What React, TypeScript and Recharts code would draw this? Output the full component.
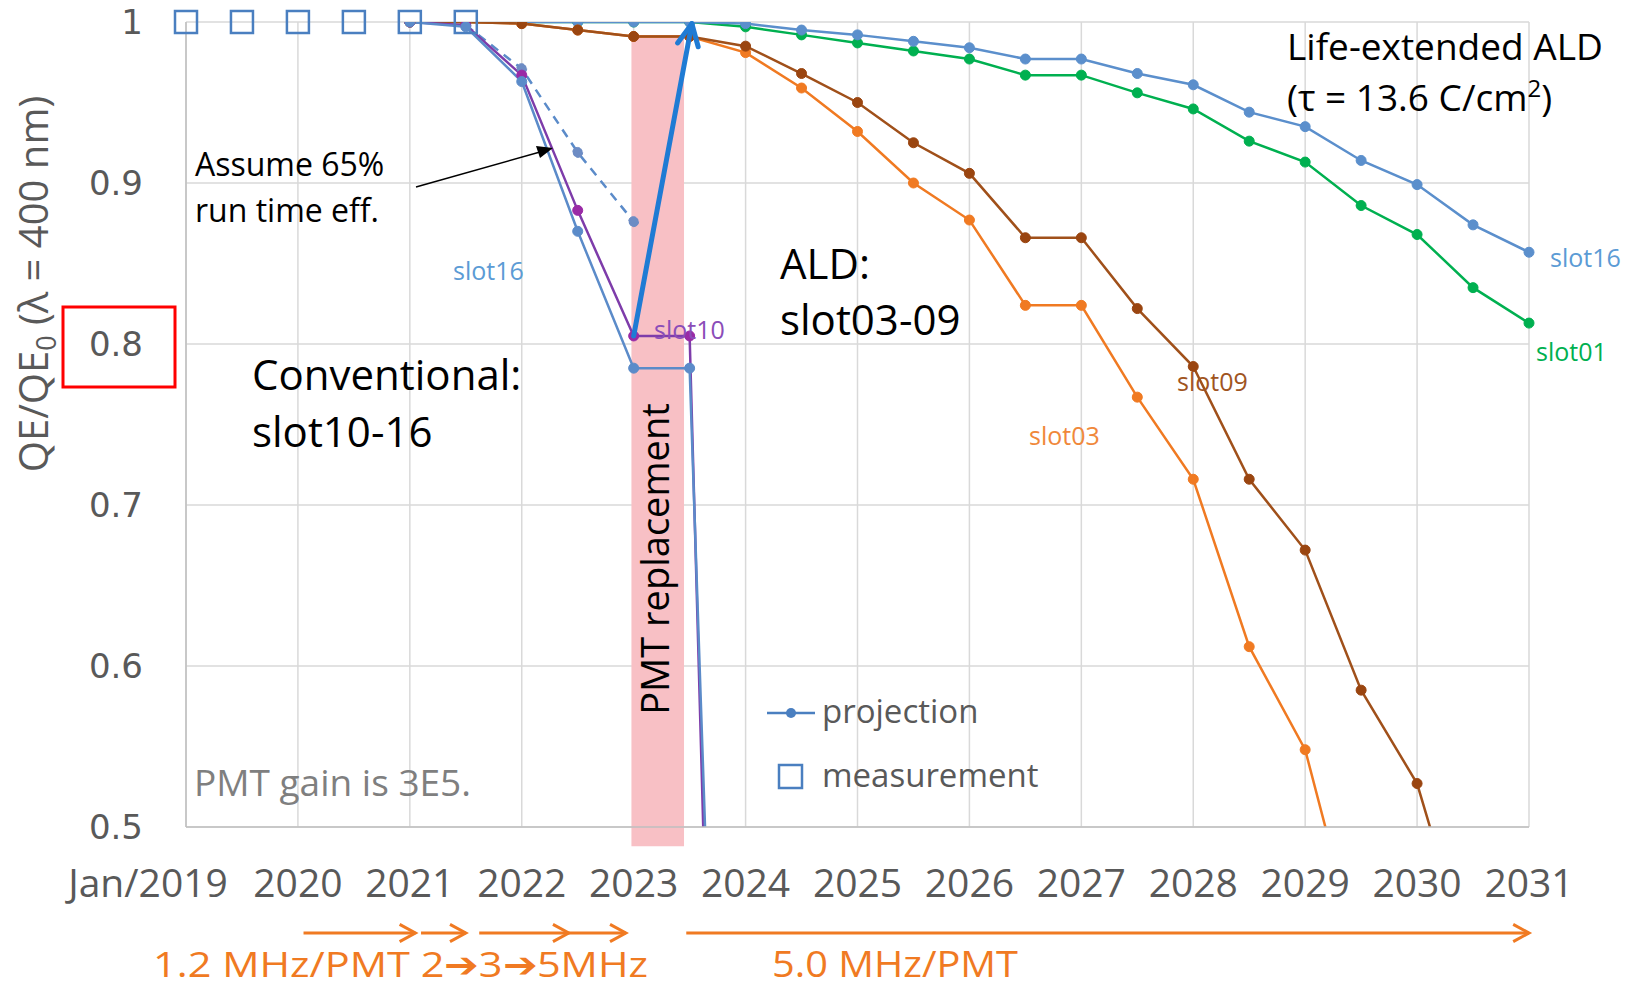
import React from 'react';
import { ComposedChart, Line, XAxis, YAxis, CartesianGrid, ReferenceArea } from 'recharts';

// ---------- data ----------
const yearTicks = [2019, 2020, 2021, 2022, 2023, 2024, 2025, 2026, 2027, 2028, 2029, 2030, 2031];
const yTicks = [0.5, 0.6, 0.7, 0.8, 0.9, 1];

const measYears = [2019, 2019.5, 2020, 2020.5, 2021, 2021.5];
const measValues = [1, 1, 1, 1, 1, 1];

const convYears = [2021, 2021.5, 2022, 2022.5, 2023, 2023.5, 2024];
const convSlot16 = [1.0, 0.997, 0.963, 0.87, 0.785, 0.785, -0.25];
const convSlot10 = [1.0, 0.998, 0.967, 0.883, 0.805, 0.805, -0.45];

const effYears = [2021.5, 2022, 2022.5, 2023];
const effSlot16 = [0.998, 0.971, 0.919, 0.876];

const aldYears = [2021, 2021.5, 2022, 2022.5, 2023, 2023.5, 2024, 2024.5, 2025, 2025.5, 2026, 2026.5, 2027, 2027.5, 2028, 2028.5, 2029, 2029.5, 2030, 2030.5, 2031];
const aldSlot03 = [1.0, 1.0, 0.999, 0.995, 0.991, 0.991, 0.981, 0.959, 0.932, 0.9, 0.877, 0.824, 0.824, 0.767, 0.716, 0.612, 0.548, 0.415];
const aldSlot09 = [1.0, 1.0, 0.999, 0.995, 0.991, 0.991, 0.985, 0.968, 0.95, 0.925, 0.906, 0.866, 0.866, 0.822, 0.786, 0.716, 0.672, 0.585, 0.527, 0.41];
const leSlot16 = [1, 1, 1, 1, 1, 1, 0.999, 0.995, 0.992, 0.988, 0.984, 0.977, 0.977, 0.968, 0.961, 0.944, 0.935, 0.914, 0.899, 0.874, 0.857];
const leSlot01 = [1, 1, 1, 1, 1, 1, 0.997, 0.992, 0.987, 0.982, 0.977, 0.967, 0.967, 0.956, 0.946, 0.926, 0.913, 0.886, 0.868, 0.835, 0.813];

const replacementSpan = [2022.98, 2023.45];
const replacementArrow = [[2023.0, 0.805], [2023.52, 0.999]];
const rateArrows = [[2020.05, 2021.05], [2021.1, 2021.5], [2021.62, 2022.42], [2022.42, 2022.93], [2023.47, 2031]];

// ---------- helpers ----------
const W = 1632;
const H = 990;
const PLOT = { left: 186, right: 1529, top: 22, bottom: 827 };
const X0 = 2019, X1 = 2031, Y0 = 0.5, Y1 = 1;
const sx = (v: number) => PLOT.left + ((v - X0) / (X1 - X0)) * (PLOT.right - PLOT.left);
const sy = (v: number) => PLOT.top + ((Y1 - v) / (Y1 - Y0)) * (PLOT.bottom - PLOT.top);

const zip = (xs: number[], ys: number[]) => ys.map((v, i) => ({ x: xs[i], v }));

const C = {
  conv16: '#5B8BC9',
  conv10: '#7E3CAA',
  eff: '#5B8BC9',
  s03: '#F07A22',
  s09: '#A0501A',
  le16: '#5B8FCC',
  s01: '#00B050',
  meas: '#4A7FC0',
  grid: '#D9D9D9',
  axisText: '#595959',
  orange: '#F07A22',
  arrowBlue: '#1F7BD4',
};

const FONT = "'Open Sans', sans-serif";

const XTick = (props: any) => {
  const { x, payload } = props;
  const first = payload.value === 2019;
  return (
    <text x={x + (first ? -38 : 0)} y={PLOT.bottom + 70} textAnchor="middle" fontFamily={FONT} fontSize={39} fill={C.axisText}>
      {first ? 'Jan/2019' : String(payload.value)}
    </text>
  );
};

const YTick = (props: any) => {
  const { y, payload } = props;
  return (
    <text x={PLOT.left - 43} y={y + 12} textAnchor="end" fontFamily="'DejaVu Sans', sans-serif" fontSize={34} fill={C.axisText}>
      {String(payload.value)}
    </text>
  );
};

const SquareDot = (props: any) => {
  const { cx, cy, index } = props;
  if (cx == null || cy == null) return <g key={`sq-${index}`} />;
  return <rect key={`sq-${index}`} x={cx - 11} y={cy - 11} width={22} height={22} fill="none" stroke={C.meas} strokeWidth={2.5} />;
};

const dot = (c: string, r = 5) => ({ r, fill: c, stroke: c, strokeWidth: 1 });

function chevron(x1: number, y1: number, x2: number, y2: number, len: number, ang: number) {
  const a = Math.atan2(y2 - y1, x2 - x1);
  const p1 = [x2 - len * Math.cos(a - ang), y2 - len * Math.sin(a - ang)];
  const p2 = [x2 - len * Math.cos(a + ang), y2 - len * Math.sin(a + ang)];
  return `${p1[0]},${p1[1]} ${x2},${y2} ${p2[0]},${p2[1]}`;
}

export default function App() {
  const [a0, a1] = replacementArrow;
  const bx1 = sx(a0[0]), by1 = sy(a0[1]), bx2 = sx(a1[0]), by2 = sy(a1[1]);
  const arrowY = 933;
  return (
    <div style={{ position: 'absolute', left: 0, top: 0, width: W, height: H, background: '#fff', overflow: 'hidden' }}>
      <ComposedChart width={W} height={H} margin={{ top: PLOT.top, right: W - PLOT.right, bottom: 0, left: 0 }}>
        <CartesianGrid stroke={C.grid} strokeWidth={1.5} verticalValues={yearTicks} horizontalValues={yTicks} />
        <XAxis
          dataKey="x"
          type="number"
          domain={[X0, X1]}
          ticks={yearTicks}
          height={H - PLOT.bottom}
          tick={<XTick />}
          tickLine={false}
          axisLine={{ stroke: '#BFBFBF', strokeWidth: 1.5 }}
          interval={0}
        />
        <YAxis
          type="number"
          domain={[Y0, Y1]}
          ticks={yTicks}
          allowDataOverflow
          width={PLOT.left}
          tick={<YTick />}
          tickLine={false}
          axisLine={{ stroke: '#BFBFBF', strokeWidth: 1.5 }}
          interval={0}
        />
        <YAxis yAxisId="meas" type="number" domain={[Y0, Y1]} hide />
        <ReferenceArea
          x1={replacementSpan[0]}
          x2={replacementSpan[1]}
          y1={0.488}
          y2={0.992}
          fill="#F8C0C5"
          fillOpacity={1}
          stroke="none"
          ifOverflow="visible"
        />
        <Line data={zip(effYears, effSlot16)} dataKey="v" stroke={C.eff} strokeWidth={2.5} strokeDasharray="9 7" dot={dot('#6D8CC4')} activeDot={false} isAnimationActive={false} />
        <Line data={zip(aldYears, leSlot01)} dataKey="v" stroke={C.s01} strokeWidth={2.5} dot={dot(C.s01)} activeDot={false} isAnimationActive={false} />
        <Line data={zip(aldYears, leSlot16)} dataKey="v" stroke={C.le16} strokeWidth={2.5} dot={dot(C.le16)} activeDot={false} isAnimationActive={false} />
        <Line data={zip(aldYears, aldSlot03)} dataKey="v" stroke={C.s03} strokeWidth={2.5} dot={dot(C.s03)} activeDot={false} isAnimationActive={false} />
        <Line data={zip(aldYears, aldSlot09)} dataKey="v" stroke={C.s09} strokeWidth={2.5} dot={dot('#9A4510')} activeDot={false} isAnimationActive={false} />
        <Line data={zip(convYears, convSlot10)} dataKey="v" stroke={C.conv10} strokeWidth={2.5} dot={dot('#9A2AA6')} activeDot={false} isAnimationActive={false} />
        <Line data={zip(convYears, convSlot16)} dataKey="v" stroke={C.conv16} strokeWidth={2.5} dot={dot(C.conv16)} activeDot={false} isAnimationActive={false} />
        <Line yAxisId="meas" data={zip(measYears, measValues)} dataKey="v" stroke="none" dot={<SquareDot />} activeDot={false} isAnimationActive={false} legendType="none" />
      </ComposedChart>

      <svg width={W} height={H} style={{ position: 'absolute', left: 0, top: 0, pointerEvents: 'none' }}>
        {/* y-axis title */}
        <text transform="translate(48,284) rotate(-90)" textAnchor="middle" fontFamily={FONT} fontSize={40} fill={C.axisText}>
          <tspan>QE/QE</tspan>
          <tspan dy={8} fontSize={27}>0</tspan>
          <tspan dy={-8}>{'  (λ = 400 nm)'}</tspan>
        </text>
        {/* red box */}
        <rect x={63} y={307} width={112} height={80} fill="none" stroke="#FF0000" strokeWidth={3} />

        {/* replacement arrow */}
        <line x1={bx1} y1={by1} x2={bx2} y2={by2} stroke={C.arrowBlue} strokeWidth={5} strokeLinecap="round" />
        <polyline points={chevron(bx1, by1, bx2, by2, 24, 0.45)} fill="none" stroke={C.arrowBlue} strokeWidth={5} strokeLinecap="round" strokeLinejoin="round" />

        {/* PMT replacement */}
        <text transform="translate(669,559) rotate(-90)" textAnchor="middle" fontFamily={FONT} fontSize={38} fill="#000">PMT replacement</text>

        {/* Assume 65% */}
        <text x={195} y={176} fontFamily={FONT} fontSize={32} fill="#000">Assume 65%</text>
        <text x={195} y={222} fontFamily={FONT} fontSize={32} fill="#000">run time eff.</text>
        <line x1={416} y1={187} x2={540} y2={152} stroke="#000" strokeWidth={1.5} />
        <polygon points="553,148 536,146 540,158" fill="#000" />

        {/* Conventional */}
        <text x={252} y={390} fontFamily={FONT} fontSize={42} fill="#000">Conventional:</text>
        <text x={252} y={447} fontFamily={FONT} fontSize={42} fill="#000">slot10-16</text>

        {/* ALD */}
        <text x={780} y={279} fontFamily={FONT} fontSize={42} fill="#000">ALD:</text>
        <text x={780} y={335} fontFamily={FONT} fontSize={42} fill="#000">slot03-09</text>

        {/* Life-extended */}
        <text x={1287} y={60} fontFamily={FONT} fontSize={37} fill="#000">Life-extended ALD</text>
        <text x={1287} y={111} fontFamily={FONT} fontSize={37} fill="#000">
          <tspan>(τ = 13.6 C/cm</tspan>
          <tspan dy={-14} fontSize={24}>2</tspan>
          <tspan dy={14}>)</tspan>
        </text>

        {/* PMT gain */}
        <text x={194} y={796} fontFamily={FONT} fontSize={37} fill="#7F7F7F">PMT gain is 3E5.</text>

        {/* slot labels */}
        <text x={453} y={280} fontFamily={FONT} fontSize={25} fill="#5B9BD5">slot16</text>
        <text x={654} y={339} fontFamily={FONT} fontSize={25} fill="#8B4DB8">slot10</text>
        <text x={1177} y={391} fontFamily={FONT} fontSize={25} fill="#A0541E">slot09</text>
        <text x={1029} y={445} fontFamily={FONT} fontSize={25} fill="#F0883A">slot03</text>
        <text x={1550} y={267} fontFamily={FONT} fontSize={25} fill="#5B9BD5">slot16</text>
        <text x={1536} y={361} fontFamily={FONT} fontSize={25} fill="#00B050">slot01</text>

        {/* legend */}
        <line x1={767} y1={713} x2={815} y2={713} stroke={C.meas} strokeWidth={2.5} />
        <circle cx={791} cy={713} r={5} fill={C.meas} />
        <text x={822} y={723} fontFamily={FONT} fontSize={33} fill={C.axisText}>projection</text>
        <rect x={779} y={765} width={23} height={23} fill="none" stroke={C.meas} strokeWidth={2.5} />
        <text x={822} y={787} fontFamily={FONT} fontSize={33} fill={C.axisText}>measurement</text>

        {/* rate arrows */}
        {rateArrows.map(([a, b], i) => (
          <g key={i}>
            <line x1={sx(a)} y1={arrowY} x2={sx(b)} y2={arrowY} stroke={C.orange} strokeWidth={3} />
            <polyline points={chevron(sx(a), arrowY, sx(b), arrowY, 18, 0.5)} fill="none" stroke={C.orange} strokeWidth={3} />
          </g>
        ))}
        <text x={153} y={977} fontFamily={FONT} fontSize={35} fill={C.orange} textLength={495} lengthAdjust="spacingAndGlyphs">1.2 MHz/PMT 2➔3➔5MHz</text>
        <text x={772} y={977} fontFamily={FONT} fontSize={36} fill={C.orange} textLength={246} lengthAdjust="spacingAndGlyphs">5.0 MHz/PMT</text>
      </svg>
    </div>
  );
}
